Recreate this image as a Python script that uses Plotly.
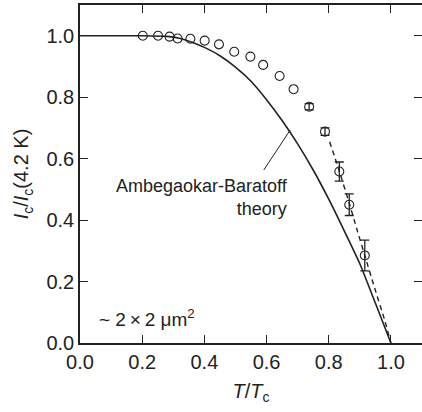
import plotly.graph_objects as go

# measured data (open circles)
t_meas = [0.202, 0.251, 0.288, 0.314, 0.355, 0.401, 0.447, 0.496, 0.548, 0.589,
          0.642, 0.687, 0.737, 0.788, 0.834, 0.866, 0.916]
ic_meas = [1.0, 1.0, 0.997, 0.991, 0.99, 0.984, 0.972, 0.948, 0.932, 0.905,
           0.869, 0.826, 0.769, 0.688, 0.558, 0.45, 0.285]
ic_err = [0, 0, 0, 0, 0, 0, 0, 0, 0, 0, 0, 0, 0.01, 0.012, 0.031, 0.035, 0.05]

# Ambegaokar-Baratoff theory curve
t_theory = [0.0, 0.20, 0.28, 0.32, 0.36, 0.40, 0.45, 0.50, 0.55, 0.60, 0.65,
            0.70, 0.75, 0.80, 0.85, 0.90, 0.95, 1.00]
ic_theory = [1.0, 1.0, 0.998, 0.992, 0.979, 0.962, 0.935, 0.898, 0.852, 0.792,
             0.724, 0.648, 0.563, 0.468, 0.365, 0.258, 0.13, 0.0]

# dashed guide line
t_dash = [0.803, 0.83, 0.866, 0.89, 0.916, 0.948, 0.98, 1.0]
ic_dash = [0.655, 0.572, 0.455, 0.372, 0.285, 0.178, 0.074, 0.0]

# leader line from label to curve
leader_t = [0.591, 0.676]
leader_ic = [0.563, 0.693]

x_ticks = [0.0, 0.2, 0.4, 0.6, 0.8, 1.0]
y_ticks = [0.0, 0.2, 0.4, 0.6, 0.8, 1.0]

INK = "#222222"
FONT = "Liberation Sans, Arial, Helvetica, sans-serif"

fig = go.Figure()

fig.add_trace(go.Scatter(x=t_theory, y=ic_theory, mode="lines",
                         line=dict(color=INK, width=1.6, shape="spline",
                                   smoothing=0.6),
                         showlegend=False, hoverinfo="skip"))
fig.add_trace(go.Scatter(x=t_dash, y=ic_dash, mode="lines",
                         line=dict(color=INK, width=1.4, dash="5px,4px",
                                   shape="spline", smoothing=0.5),
                         showlegend=False, hoverinfo="skip"))
fig.add_trace(go.Scatter(x=leader_t, y=leader_ic, mode="lines",
                         line=dict(color=INK, width=1), showlegend=False,
                         hoverinfo="skip"))

n_plain = 12
fig.add_trace(go.Scatter(
    x=t_meas[:n_plain], y=ic_meas[:n_plain], mode="markers",
    marker=dict(symbol="circle-open", size=9, color=INK, line=dict(width=1.1)),
    showlegend=False))
fig.add_trace(go.Scatter(
    x=t_meas[n_plain:], y=ic_meas[n_plain:], mode="markers",
    marker=dict(symbol="circle-open", size=9, color=INK, line=dict(width=1.1)),
    error_y=dict(type="data", array=ic_err[n_plain:], visible=True,
                 color=INK, thickness=1.3, width=4.5),
    showlegend=False))

fig.add_annotation(x=0.677, y=0.474, xref="x", yref="y",
                   text="Ambegaokar-Baratoff<br>theory", showarrow=False,
                   xanchor="right", yanchor="middle", align="right",
                   font=dict(family=FONT, size=18, color=INK))
fig.add_annotation(x=0.055, y=0.082, xref="x", yref="y",
                   text="~ 2\u2009\u00d7\u20092 \u03bcm<sup>2</sup>", showarrow=False,
                   xanchor="left", yanchor="middle",
                   font=dict(family=FONT, size=19, color=INK))

fig.update_xaxes(range=[0, 1.1], tickvals=x_ticks, tickformat=".1f",
                 ticks="inside", ticklen=8, tickwidth=1.3, tickcolor=INK,
                 showline=True, linecolor=INK, linewidth=1.5, mirror="ticks",
                 showgrid=False, zeroline=False,
                 tickfont=dict(family=FONT, size=20, color=INK),
                 title=dict(text="<i>T</i>/<i>T</i><sub>c</sub>",
                            font=dict(family=FONT, size=20, color=INK),
                            standoff=12))
fig.update_yaxes(range=[0, 1.1], tickvals=y_ticks, tickformat=".1f",
                 ticks="inside", ticklen=8, tickwidth=1.3, tickcolor=INK,
                 showline=True, linecolor=INK, linewidth=1.5, mirror="ticks",
                 showgrid=False, zeroline=False,
                 tickfont=dict(family=FONT, size=20, color=INK),
                 title=dict(text="<i>I</i><sub>c</sub>/<i>I</i><sub>c</sub>(4.2 K)",
                            font=dict(family=FONT, size=20, color=INK),
                            standoff=12))

# plot area extends slightly past the visible window (right frame cropped)
fig.update_layout(width=425, height=412,
                  margin=dict(l=80, r=1, t=5, b=69),
                  paper_bgcolor="white", plot_bgcolor="white",
                  font=dict(family=FONT, color=INK))

fig.write_html("out.html",
               config={"displayModeBar": False},
               post_script="document.body.style.margin='0';"
                           "document.body.style.overflow='hidden';")
